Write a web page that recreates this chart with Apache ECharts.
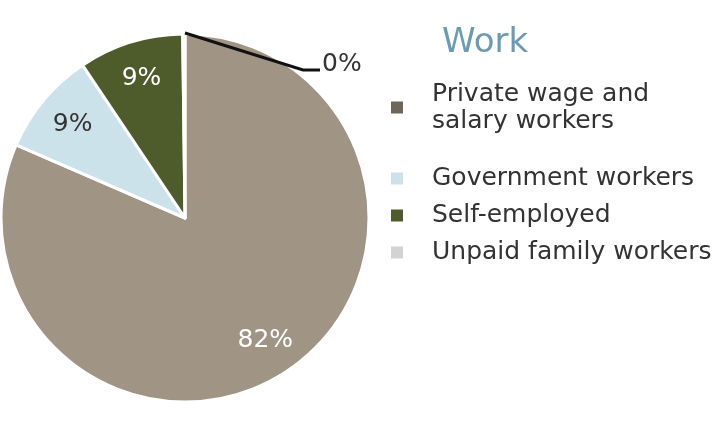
<!DOCTYPE html>
<html>
<head>
<meta charset="utf-8">
<script src="https://cdn.jsdelivr.net/npm/echarts@6/dist/echarts.min.js"></script>
<style>
html, body { margin: 0; padding: 0; background: #fff; }
#main { width: 716px; height: 427px; }
</style>
</head>
<body>
<div id="main"></div>
<script>
// categories and shares (percent of workers)
var categories = ['Private wage and salary workers', 'Government workers', 'Self-employed', 'Unpaid family workers'];
var shares = [81.5, 9.1, 9.2, 0.2];
var sliceColors = ['#A09484', '#CCE2EA', '#4E5B2B', '#D3D3D3'];
var legendColors = ['#6F665A', '#CCE2EA', '#4E5B2B', '#D3D3D3'];
var labelColors = ['#ffffff', '#333333', '#ffffff', '#333333'];

var FONT = 'DejaVu Sans';
var CX = 185, CY = 218, R = 184;
var SMALL = 3; // slice that gets the leader line

var pieData = categories.map(function (name, i) {
    return {
        name: name,
        value: shares[i],
        itemStyle: { color: sliceColors[i] },
        label: { show: i !== SMALL, color: labelColors[i] }
    };
});

// same slices again, invisible, only to draw the leader line above the big slice
var guideData = categories.map(function (name, i) {
    return {
        name: name,
        value: shares[i],
        itemStyle: { color: 'rgba(0,0,0,0)', borderWidth: 0 },
        label: { show: i === SMALL },
        labelLine: { show: i === SMALL }
    };
});

var legendData = categories.map(function (name, i) {
    var item = { name: name, itemStyle: { color: legendColors[i] } };
    if (i === 0) {
        // two line entry, keep the marker on the first line
        item.textStyle = { padding: [34, 0, 7, 23] };
    }
    return item;
});

var myChart = echarts.init(document.getElementById('main'));

var option = {
    backgroundColor: '#fff',
    animation: false,
    title: {
        text: 'Work',
        left: 437,
        top: 21,
        textStyle: { fontFamily: FONT, fontSize: 34, fontWeight: 'normal', color: '#6B9BB4' }
    },
    legend: {
        orient: 'vertical',
        left: 384,
        top: 55,
        itemWidth: 14,
        itemHeight: 14,
        itemGap: 10,
        icon: 'rect',
        selectedMode: false,
        data: legendData,
        formatter: function (name) {
            return name === categories[0] ? 'Private wage and\nsalary workers' : name;
        },
        textStyle: {
            fontFamily: FONT,
            fontSize: 25,
            lineHeight: 27,
            color: '#333333',
            padding: [0, 0, 0, 23]
        }
    },
    series: [{
        type: 'pie',
        center: [CX, CY],
        radius: [0, R],
        startAngle: 90,
        clockwise: true,
        avoidLabelOverlap: false,
        percentPrecision: 0,
        data: pieData,
        itemStyle: { borderColor: '#fff', borderWidth: 3 },
        label: {
            position: 'inside',
            formatter: '{d}%',
            fontFamily: FONT,
            fontSize: 25
        },
        labelLine: { show: false },
        labelLayout: function (params) {
            // push inside labels further out, like the original
            var lr = params.labelRect;
            var mx = lr.x + lr.width / 2, my = lr.y + lr.height / 2;
            var k = 1.54;
            return {
                x: CX + (mx - CX) * k,
                y: CY + (my - CY) * k,
                align: 'center',
                verticalAlign: 'middle'
            };
        }
    }, {
        type: 'pie',
        z: 10,
        center: [CX, CY],
        radius: [0, R],
        startAngle: 90,
        clockwise: true,
        silent: true,
        avoidLabelOverlap: false,
        percentPrecision: 0,
        data: guideData,
        label: {
            position: 'outside',
            formatter: '{d}%',
            fontFamily: FONT,
            fontSize: 25,
            color: '#333333'
        },
        labelLine: { lineStyle: { color: '#111', width: 3 } },
        labelLayout: function (params) {
            if (params.dataIndex !== SMALL) return;
            var top = CY - R;
            return {
                x: CX + 137,
                y: top + 30,
                align: 'left',
                verticalAlign: 'middle',
                labelLinePoints: [[CX, top - 1], [CX + 118, top + 36], [CX + 135, top + 36]]
            };
        }
    }]
};

myChart.setOption(option);
</script>
</body>
</html>
